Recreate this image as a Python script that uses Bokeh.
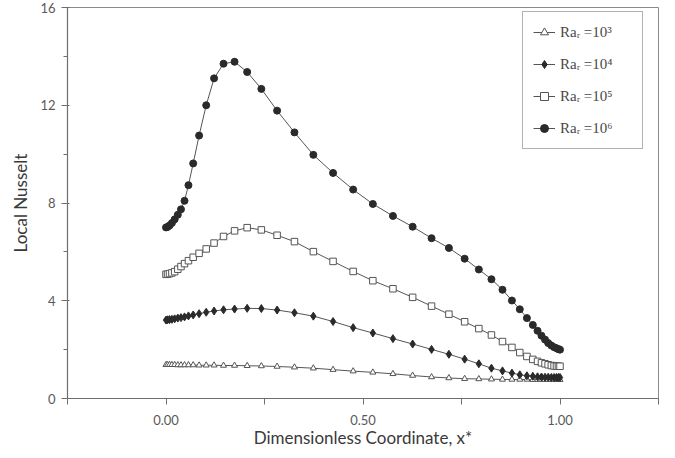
from bokeh.plotting import figure
from bokeh.models import FixedTicker, PrintfTickFormatter, Legend, LegendItem, Range1d
from bokeh.embed import file_html
from bokeh.resources import INLINE

# ---- data ----
x_star = [0.000, 0.004, 0.009, 0.015, 0.022, 0.030, 0.038, 0.047, 0.057, 0.069,
          0.084, 0.102, 0.122, 0.146, 0.174, 0.206, 0.242, 0.282, 0.326, 0.374,
          0.424, 0.475, 0.525, 0.576, 0.626, 0.674, 0.718, 0.758, 0.794, 0.826,
          0.854, 0.878, 0.898, 0.916, 0.931, 0.943, 0.953, 0.962, 0.970, 0.978,
          0.985, 0.991, 0.996, 1.000]

nu_ra3 = [1.38, 1.38, 1.38, 1.38, 1.38, 1.37, 1.37, 1.37, 1.37, 1.37,
          1.36, 1.36, 1.36, 1.35, 1.35, 1.34, 1.33, 1.31, 1.28, 1.24,
          1.18, 1.12, 1.07, 1.01, 0.94, 0.88, 0.84, 0.81, 0.80, 0.79,
          0.78, 0.78, 0.78, 0.78, 0.77, 0.77, 0.77, 0.77, 0.77, 0.77,
          0.77, 0.77, 0.77, 0.77]

nu_ra4 = [3.21, 3.22, 3.23, 3.24, 3.26, 3.29, 3.31, 3.34, 3.38, 3.42,
          3.47, 3.53, 3.58, 3.63, 3.66, 3.69, 3.68, 3.62, 3.51, 3.37,
          3.15, 2.90, 2.68, 2.45, 2.23, 2.01, 1.81, 1.61, 1.42, 1.24,
          1.13, 1.04, 0.97, 0.93, 0.91, 0.89, 0.88, 0.87, 0.87, 0.86,
          0.86, 0.86, 0.86, 0.86]

nu_ra5 = [5.08, 5.09, 5.11, 5.14, 5.19, 5.29, 5.40, 5.52, 5.64, 5.78,
          5.94, 6.12, 6.36, 6.63, 6.86, 6.99, 6.90, 6.68, 6.42, 6.01,
          5.61, 5.20, 4.82, 4.49, 4.14, 3.78, 3.45, 3.14, 2.86, 2.60,
          2.33, 2.09, 1.88, 1.72, 1.60, 1.52, 1.46, 1.42, 1.38, 1.35,
          1.33, 1.32, 1.32, 1.32]

nu_ra6 = [7.00, 7.02, 7.08, 7.18, 7.33, 7.52, 7.74, 8.09, 8.73, 9.62,
          10.76, 12.00, 13.10, 13.70, 13.78, 13.36, 12.67, 11.78, 10.89, 9.97,
          9.23, 8.55, 7.96, 7.47, 7.03, 6.56, 6.16, 5.72, 5.28, 4.88,
          4.45, 4.01, 3.65, 3.29, 3.01, 2.77, 2.57, 2.41, 2.27, 2.17,
          2.10, 2.06, 2.02, 2.00]

series_labels = ["Raᵣ =10³", "Raᵣ =10⁴", "Raᵣ =10⁵", "Raᵣ =10⁶"]
x_title = "Dimensionless Coordinate, x*"
y_title = "Local Nusselt"
x_major_ticks = [0.0, 0.5, 1.0]
x_minor_ticks = [-0.25, 0.25, 0.75, 1.25]
y_major_ticks = [0, 4, 8, 12, 16]
y_minor_ticks = [2, 6, 10, 14]

FONT = "Lato"
AXIS_COL = "#6f6f6f"
LINE_COL = "#555555"
MARK_COL = "#2a2a2a"

p = figure(width=659, height=450, output_backend="svg", toolbar_location=None,
           x_range=Range1d(-0.25, 1.25), y_range=Range1d(0, 16),
           min_border_left=67, min_border_right=1, min_border_top=7,
           min_border_bottom=52)

p.background_fill_color = "white"
p.border_fill_color = "white"
p.outline_line_color = "#8a8a8a"
p.outline_line_width = 1
p.xgrid.visible = False
p.ygrid.visible = False

# axes
p.xaxis.ticker = FixedTicker(ticks=x_major_ticks, minor_ticks=x_minor_ticks)
p.xaxis.formatter = PrintfTickFormatter(format="%.2f")
p.yaxis.ticker = FixedTicker(ticks=y_major_ticks, minor_ticks=y_minor_ticks)

for ax in (p.xaxis[0], p.yaxis[0]):
    ax.axis_line_color = AXIS_COL
    ax.axis_line_width = 1.2
    ax.major_tick_line_color = AXIS_COL
    ax.minor_tick_line_color = AXIS_COL
    ax.major_label_text_font = FONT
    ax.major_label_text_font_size = "13px"
    ax.major_label_text_color = "#595959"
    ax.axis_label_text_font = FONT
    ax.axis_label_text_font_size = "17px"
    ax.axis_label_text_font_style = "normal"
    ax.axis_label_text_color = "#3a3a3a"

p.xaxis.major_tick_out = 6
p.xaxis.major_tick_in = 0
p.xaxis.minor_tick_out = 6
p.xaxis.minor_tick_in = 0
p.xaxis.major_label_standoff = 10
p.xaxis.axis_label = x_title
p.xaxis.axis_label_standoff = -1

p.yaxis.major_tick_out = 6
p.yaxis.major_tick_in = 2
p.yaxis.minor_tick_out = 4
p.yaxis.minor_tick_in = 0
p.yaxis.major_label_standoff = 6
p.yaxis.axis_label = y_title
p.yaxis.axis_label_standoff = 6

# series
l3 = p.line(x_star, nu_ra3, line_color=LINE_COL, line_width=1)
s3 = p.scatter(x_star, nu_ra3, marker="triangle", size=6, fill_color="white",
               line_color="#555555", line_width=1)
l4 = p.line(x_star, nu_ra4, line_color=LINE_COL, line_width=1)
s4 = p.scatter(x_star, nu_ra4, marker="diamond", size=8, fill_color=MARK_COL,
               line_color=MARK_COL, line_width=1)
l5 = p.line(x_star, nu_ra5, line_color=LINE_COL, line_width=1)
s5 = p.scatter(x_star, nu_ra5, marker="square", size=6.5, fill_color="white",
               line_color="#555555", line_width=1)
l6 = p.line(x_star, nu_ra6, line_color=LINE_COL, line_width=1)
s6 = p.scatter(x_star, nu_ra6, marker="circle", size=7, fill_color=MARK_COL,
               line_color=MARK_COL, line_width=1)

items = [LegendItem(label=series_labels[0], renderers=[l3, s3]),
         LegendItem(label=series_labels[1], renderers=[l4, s4]),
         LegendItem(label=series_labels[2], renderers=[l5, s5]),
         LegendItem(label=series_labels[3], renderers=[l6, s6])]
legend = Legend(items=items, location=(455, 249), margin=0,
                padding=10, spacing=12, glyph_width=22, glyph_height=20,
                label_height=20, label_width=72, label_standoff=5,
                label_text_font="Liberation Serif", label_text_font_size="15px",
                label_text_color="#4a4a4a",
                border_line_color="#666666", border_line_width=1,
                background_fill_color="white", background_fill_alpha=1)
p.add_layout(legend)

open("out.html", "w").write(file_html(p, INLINE))
